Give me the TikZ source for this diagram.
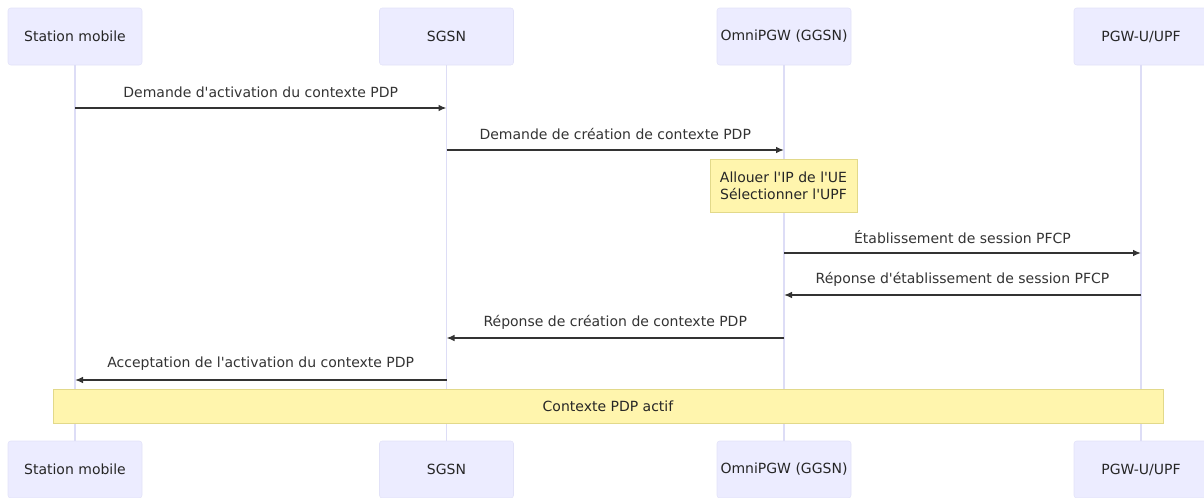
\documentclass[tikz,border=0pt]{standalone}
\usepackage{fontspec}
\setmainfont{DejaVu Sans}
\usetikzlibrary{positioning,arrows.meta}
\definecolor{actorfill}{HTML}{ECECFF}
\definecolor{actorline}{HTML}{E2E2F8}
\definecolor{lifeline}{HTML}{DDDDF6}
\definecolor{notefill}{HTML}{FFF5AD}
\definecolor{noteline}{HTML}{E2D98A}
\definecolor{msgline}{HTML}{333333}
\definecolor{msgtext}{HTML}{333333}
\newcommand{\ap}{\textquotesingle}

\begin{document}
\begin{tikzpicture}[
  x=0.75pt, y=-0.75pt,
  every node/.style={font=\fontsize{10.5pt}{12.5pt}\selectfont, text=msgtext},
  actor/.style={draw=actorline, fill=actorfill, rounded corners=2pt, align=center,
    minimum width=100.5pt, minimum height=42.75pt, inner sep=2pt, text=black!85},
  life/.style={draw=lifeline, line width=1.1pt},
  msg/.style={-{Latex[length=6pt,width=5pt]}, draw=msgline, line width=1.1pt},
  note/.style={draw=noteline, fill=notefill, align=center, inner sep=2pt, text=black!85},
  lbl/.style={midway, yshift=12pt}
]
\useasboundingbox (0,0) rectangle (1204,497);

% actors, top and bottom
\node[actor] (ms) at (75,36.5) {Station mobile};
\node[actor] (sgsn) at (446.5,36.5) {SGSN};
\node[actor] (pgw) at (784,36.5) {OmniPGW (GGSN)};
\node[actor] (upf) at (1141,36.5) {PGW-U/UPF};
\node[actor] (msB) at (75,469.5) {Station mobile};
\node[actor] (sgsnB) at (446.5,469.5) {SGSN};
\node[actor] (pgwB) at (784,469.5) {OmniPGW (GGSN)};
\node[actor] (upfB) at (1141,469.5) {PGW-U/UPF};

% lifelines
\foreach \a in {ms,sgsn,pgw,upf}
  \draw[life] (\a.south) -- (\a B.north);

% message end points
\coordinate (m1a) at (ms |- 0,108);   \coordinate (m1b) at (sgsn |- 0,108);
\coordinate (m2a) at (sgsn |- 0,150); \coordinate (m2b) at (pgw |- 0,150);
\coordinate (m4a) at (pgw |- 0,253);  \coordinate (m4b) at (upf |- 0,253);
\coordinate (m5a) at (upf |- 0,295);  \coordinate (m5b) at (pgw |- 0,295);
\coordinate (m6a) at (pgw |- 0,338);  \coordinate (m6b) at (sgsn |- 0,338);
\coordinate (m7a) at (sgsn |- 0,380); \coordinate (m7b) at (ms |- 0,380);

\draw[msg] (m1a) -- node[lbl] {Demande d\ap activation du contexte PDP} (m1b);
\draw[msg] (m2a) -- node[lbl] {Demande de création de contexte PDP} (m2b);
\node[note, minimum width=110.25pt, minimum height=39.75pt] (alloc) at (783.5,185.5)
  {Allouer l\ap IP de l\ap UE\\Sélectionner l\ap UPF};
\draw[msg] (m4a) -- node[lbl] {Établissement de session PFCP} (m4b);
\draw[msg] (m5a) -- node[lbl] {Réponse d\ap établissement de session PFCP} (m5b);
\draw[msg] (m6a) -- node[lbl] {Réponse de création de contexte PDP} (m6b);
\draw[msg] (m7a) -- node[lbl] {Acceptation de l\ap activation du contexte PDP} (m7b);

\node[note, minimum width=832.5pt, minimum height=25.5pt] (actif) at (608,406) {Contexte PDP actif};
\end{tikzpicture}
\end{document}
